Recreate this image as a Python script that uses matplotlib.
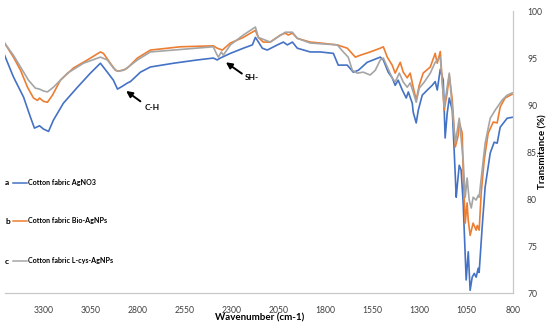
import matplotlib
matplotlib.use("Agg")
import matplotlib.pyplot as plt
from matplotlib.lines import Line2D

plt.rcParams['font.family'] = ['Lato', 'DejaVu Sans']

# ---- data ----
wn_a = [3507, 3460, 3406, 3369, 3348, 3321, 3300, 3273, 3247, 3194, 3119, 3050, 2997, 2960,
        2928, 2906, 2880, 2853, 2837, 2784, 2731, 2608, 2481, 2396, 2375, 2359, 2305, 2236,
        2188, 2172, 2162, 2135, 2109, 2055, 2023, 2002, 1975, 1949, 1880, 1827, 1757, 1731,
        1683, 1651, 1624, 1577, 1545, 1507, 1491, 1465, 1444, 1428, 1412, 1390, 1369, 1358,
        1337, 1332, 1316, 1305, 1284, 1257, 1231, 1215, 1204, 1188, 1172, 1162, 1151, 1140,
        1124, 1114, 1103, 1098, 1087, 1077, 1066, 1061, 1050, 1039, 1029, 1018, 1007, 997,
        986, 981, 965, 949, 922, 901, 885, 869, 832, 805]
t_a = [95.3, 93.0, 90.85, 88.7, 87.55, 87.8, 87.45, 87.2, 88.4, 90.2, 91.9, 93.4, 94.45, 93.5,
       92.65, 91.7, 92.0, 92.35, 92.5, 93.5, 94.05, 94.45, 94.8, 95.0, 94.8, 95.0, 95.5, 96.05,
       96.4, 97.2, 96.9, 96.05, 95.85, 96.4, 96.7, 96.4, 96.7, 96.05, 95.65, 95.65, 95.5, 94.25,
       94.25, 93.5, 93.7, 94.55, 94.8, 95.1, 94.8, 93.5, 92.9, 92.1, 92.65, 91.6, 90.75, 91.4,
       90.2, 89.25, 88.1, 89.45, 91.05, 91.6, 92.1, 92.5, 91.6, 93.8, 92.65, 86.5, 89.15, 90.75,
       89.45, 85.2, 80.2, 81.3, 83.6, 83.1, 79.6, 77.0, 71.4, 74.4, 70.3, 71.7, 72.1, 71.7,
       72.65, 72.2, 77.0, 81.3, 84.9, 86.05, 85.95, 87.65, 88.6, 88.7]

wn_b = [3507, 3460, 3422, 3385, 3353, 3332, 3321, 3300, 3279, 3252, 3210, 3140, 3066, 2997,
        2981, 2944, 2917, 2901, 2864, 2848, 2800, 2731, 2571, 2396, 2375, 2348, 2305, 2236,
        2172, 2157, 2130, 2093, 2039, 2013, 1997, 1975, 1949, 1880, 1827, 1736, 1683, 1640,
        1614, 1561, 1507, 1491, 1470, 1444, 1428, 1401, 1385, 1364, 1348, 1332, 1316, 1300,
        1279, 1241, 1215, 1204, 1188, 1167, 1151, 1140, 1124, 1108, 1092, 1087, 1071, 1066,
        1055, 1045, 1039, 1029, 1013, 997, 991, 981, 970, 954, 933, 906, 885, 869, 843, 805]
t_b = [96.6, 95.1, 93.7, 91.9, 90.75, 90.5, 90.75, 90.4, 90.3, 91.05, 92.65, 93.95, 94.8, 95.65,
       95.5, 94.45, 93.7, 93.6, 93.8, 94.05, 95.0, 95.85, 96.2, 96.3, 96.05, 95.85, 96.6, 97.2,
       97.95, 97.2, 96.7, 96.7, 97.45, 97.65, 97.45, 97.65, 97.1, 96.7, 96.6, 96.4, 96.05, 95.1,
       95.3, 95.65, 96.05, 96.2, 95.1, 94.25, 93.4, 94.55, 93.5, 92.9, 93.4, 91.9, 90.55, 92.1,
       93.4, 94.05, 95.5, 94.45, 95.7, 89.45, 91.3, 93.2, 90.55, 85.55, 86.8, 88.2, 87.0, 82.75,
       77.45, 79.6, 77.75, 76.15, 77.45, 76.7, 77.2, 76.7, 80.65, 84.15, 87.0, 88.2, 88.1, 89.8,
       90.75, 91.15]

wn_c = [3507, 3460, 3422, 3380, 3343, 3321, 3300, 3279, 3247, 3172, 3087, 2997, 2960, 2928,
        2906, 2874, 2848, 2800, 2731, 2396, 2380, 2369, 2353, 2343, 2305, 2236, 2172, 2156,
        2093, 2013, 1975, 1949, 1880, 1736, 1704, 1678, 1656, 1630, 1598, 1561, 1534, 1507,
        1491, 1470, 1444, 1428, 1406, 1385, 1364, 1348, 1332, 1316, 1300, 1273, 1241, 1215,
        1188, 1167, 1140, 1108, 1087, 1066, 1055, 1045, 1034, 1023, 1013, 997, 986, 981, 965,
        949, 922, 896, 858, 832, 805]
t_c = [96.6, 95.3, 94.05, 92.65, 91.8, 91.7, 91.5, 91.4, 91.9, 93.4, 94.45, 95.1, 94.8, 93.95,
       93.6, 93.7, 94.05, 94.8, 95.65, 96.2, 95.5, 95.1, 95.65, 95.3, 96.4, 97.45, 98.3, 97.2,
       96.7, 97.75, 97.75, 97.1, 96.6, 96.4, 95.65, 95.1, 93.7, 93.4, 93.5, 93.2, 93.7, 94.8,
       95.0, 94.05, 92.9, 92.45, 93.4, 92.45, 91.9, 92.35, 91.4, 90.3, 91.8, 92.45, 93.4, 94.55,
       95.1, 89.8, 93.4, 85.95, 88.6, 84.15, 80.2, 82.25, 79.9, 79.05, 80.2, 79.9, 80.4, 80.2,
       83.1, 85.95, 88.6, 89.45, 90.55, 91.05, 91.3]

series_labels = ["Cotton fabric AgNO3", "Cotton fabric Bio-AgNPs", "Cotton fabric L-cys-AgNPs"]
series_letters = ["a", "b", "c"]
colors = ["#4472C4", "#ED7D31", "#A5A5A5"]
x_ticks = [3300, 3050, 2800, 2550, 2300, 2050, 1800, 1550, 1300, 1050, 800]
y_ticks = [70, 75, 80, 85, 90, 95, 100]

fig = plt.figure(figsize=(5.5, 3.25), dpi=100)
ax = fig.add_axes([0.009, 0.098, 0.924, 0.868])

lines = []
for wn, t, c, lab in zip([wn_a, wn_b, wn_c], [t_a, t_b, t_c], colors, series_labels):
    ln, = ax.plot(wn, t, color=c, lw=1.2, label=lab)
    lines.append(ln)

ax.set_xlim(3505, 800)
ax.set_ylim(70, 100)
ax.set_xticks(x_ticks)
ax.set_yticks(y_ticks)
ax.yaxis.tick_right()
ax.yaxis.set_label_position("right")
ax.tick_params(axis='both', length=0, labelsize=6.2, colors='#404040')
ax.tick_params(axis='x', pad=9)
ax.tick_params(axis='y', pad=10)
for s in ['top', 'left']:
    ax.spines[s].set_visible(False)
for s in ['bottom', 'right']:
    ax.spines[s].set_color('#C8C8C8')
    ax.spines[s].set_linewidth(0.9)

ax.set_xlabel("Wavenumber (cm-1)", fontsize=7, fontweight='bold', va='center')
ax.xaxis.set_label_coords(0.502, -0.088)
ax.set_ylabel("Transmitance (%)", fontsize=7, fontweight='bold', va='center', rotation=90)
ax.yaxis.set_label_coords(1.059, 0.5)

# legend (manual placement to match the reference)
leg_y = [183, 221, 261]
for ln, letter, py in zip(lines, series_letters, leg_y):
    fy = 1 - py / 325.0
    fig.text(5 / 550.0, fy, letter, fontsize=6, fontweight='bold', va='center', ha='left')
    fig.add_artist(Line2D([13 / 550.0, 27 / 550.0], [fy, fy], color=ln.get_color(), lw=1.1,
                          transform=fig.transFigure))
    fig.text(28.5 / 550.0, fy, ln.get_label(), fontsize=5.1, fontweight='bold', va='center', ha='left')

# annotations
arrow = dict(arrowstyle='-|>', color='black', lw=1.4, mutation_scale=9, shrinkA=0, shrinkB=0)
ax.annotate("", xy=(2860, 91.5), xytext=(2784, 90.4), arrowprops=arrow)
ax.text(2763, 89.75, "C-H", fontsize=6, fontweight='bold', va='center', ha='left')
ax.annotate("", xy=(2329, 94.55), xytext=(2244, 93.35), arrowprops=arrow)
ax.text(2231, 92.95, "SH-", fontsize=6, fontweight='bold', va='center', ha='left')

fig.savefig("out.png", dpi=100)
